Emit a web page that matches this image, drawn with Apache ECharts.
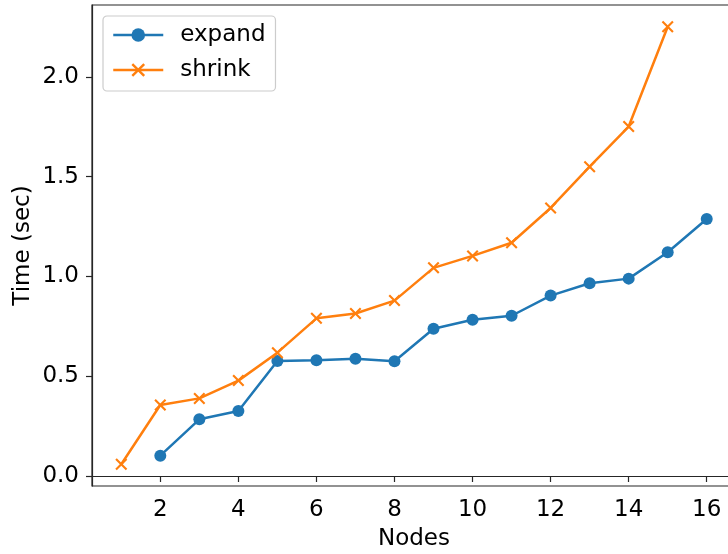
<!DOCTYPE html>
<html>
<head>
<meta charset="utf-8">
<script src="https://cdn.jsdelivr.net/npm/echarts@6/dist/echarts.min.js"></script>
<style>
  html, body { margin: 0; padding: 0; background: #fff; }
  #chart { width: 728px; height: 554px; }
</style>
</head>
<body>
<div id="chart"></div>
<script>
// data
const expandNodes = [2, 3, 4, 5, 6, 7, 8, 9, 10, 11, 12, 13, 14, 15, 16];
const expandTime = [0.102, 0.284, 0.326, 0.576, 0.580, 0.588, 0.575, 0.738, 0.783, 0.803, 0.904, 0.966, 0.989, 1.121, 1.288];
const shrinkNodes = [1, 2, 3, 4, 5, 6, 7, 8, 9, 10, 11, 12, 13, 14, 15];
const shrinkTime = [0.059, 0.356, 0.389, 0.478, 0.618, 0.790, 0.814, 0.879, 1.043, 1.103, 1.169, 1.343, 1.550, 1.751, 2.251];
const xTicks = [2, 4, 6, 8, 10, 12, 14, 16];
const yTicks = [0, 0.5, 1.0, 1.5, 2.0];

const FONT = 'DejaVu Sans';
const FS = 23;
const AXIS = '#262626';
// matplotlib 'x' marker as a filled outline
const CROSS = 'path://M0,1.5L1.5,0L6,4.5L10.5,0L12,1.5L7.5,6L12,10.5L10.5,12L6,7.5L1.5,12L0,10.5L4.5,6Z';

const pairs = (xs, ys) => xs.map((x, i) => [x, ys[i]]);

const chart = echarts.init(document.getElementById('chart'), null, {renderer: 'canvas'});
chart.setOption({
    animation: false,
    textStyle: {fontFamily: FONT},
    grid: {
        left: 92, top: 5, width: 644, height: 481,
        outerBoundsMode: 'none', containLabel: false,
        show: true, borderColor: AXIS, borderWidth: 1.2, backgroundColor: 'transparent'
    },
    legend: {
        left: 103, top: 16, orient: 'vertical',
        itemWidth: 50, itemHeight: 17, itemGap: 9,
        padding: [6, 10, 8, 9],
        backgroundColor: 'rgba(255,255,255,0.8)',
        borderColor: '#cccccc', borderWidth: 1.2, borderRadius: 4,
        lineStyle: {width: 2.5},
        textStyle: {fontFamily: FONT, fontSize: FS, color: '#000', lineHeight: 26, padding: [0, 0, 0, 12]},
        data: ['expand', 'shrink']
    },
    xAxis: {
        type: 'value', min: 0.25, max: 16.75,
        name: 'Nodes', nameLocation: 'middle', nameGap: 42, nameMoveOverlap: false,
        nameTextStyle: {fontFamily: FONT, fontSize: FS, color: '#000'},
        axisLine: {show: true, lineStyle: {color: AXIS, width: 1.2}},
        axisTick: {show: true, length: 6, lineStyle: {color: AXIS, width: 1.2}, customValues: xTicks},
        axisLabel: {fontFamily: FONT, fontSize: FS, color: '#000', margin: 13, customValues: xTicks},
        splitLine: {show: false}
    },
    yAxis: {
        type: 'value', min: -0.05, max: 2.36,
        name: 'Time (sec)', nameLocation: 'middle', nameGap: 57, nameMoveOverlap: false,
        nameTextStyle: {fontFamily: FONT, fontSize: FS, color: '#000'},
        axisLine: {show: true, lineStyle: {color: AXIS, width: 1.2}},
        axisTick: {show: true, length: 6, lineStyle: {color: AXIS, width: 1.2}, customValues: yTicks},
        axisLabel: {
            fontFamily: FONT, fontSize: FS, color: '#000', margin: 13, customValues: yTicks,
            formatter: v => v.toFixed(1)
        },
        splitLine: {show: false}
    },
    series: [
        {
            name: 'expand', type: 'line',
            data: pairs(expandNodes, expandTime),
            symbol: 'circle', symbolSize: 12,
            itemStyle: {color: '#1f77b4', borderWidth: 0},
            lineStyle: {color: '#1f77b4', width: 2.5}
        },
        {
            name: 'shrink', type: 'line',
            data: pairs(shrinkNodes, shrinkTime),
            symbol: CROSS, symbolSize: 12,
            itemStyle: {color: '#ff7f0e', borderWidth: 0},
            lineStyle: {color: '#ff7f0e', width: 2.5}
        }
    ]
});
</script>
</body>
</html>
